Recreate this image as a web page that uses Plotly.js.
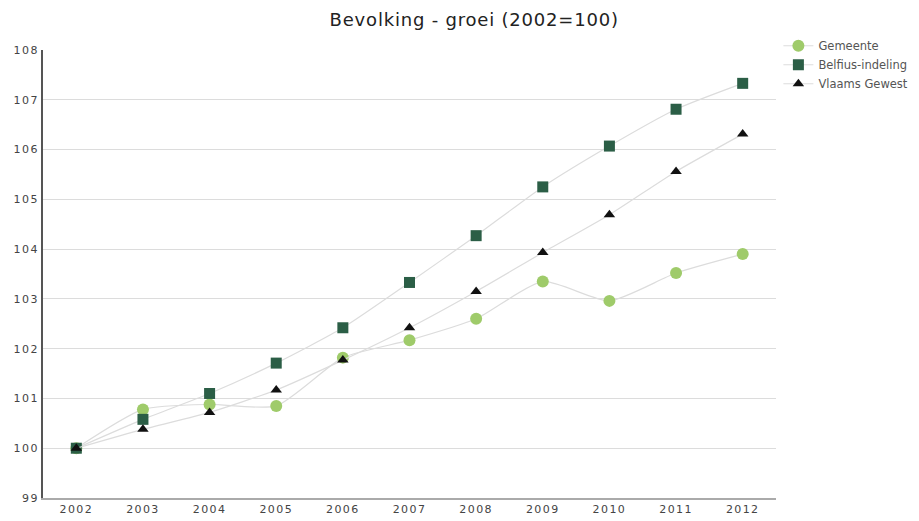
<!DOCTYPE html>
<html><head><meta charset="utf-8">
<script src="https://cdn.plot.ly/plotly-3.0.1.min.js"></script>
<style>
html,body{margin:0;padding:0;background:#fff;}
#chart{width:919px;height:521px;}
#chart .xtick text, #chart .ytick text{letter-spacing:1.4px;}
#chart .gtitle{letter-spacing:0.8px;}
</style>
</head><body><div id="chart"></div>
<script>
const years = [2002,2003,2004,2005,2006,2007,2008,2009,2010,2011,2012];
const gemeente = [100,100.78,100.88,100.85,101.82,102.17,102.6,103.35,102.96,103.52,103.9];
const belfius = [100,100.58,101.1,101.71,102.42,103.33,104.27,105.25,106.07,106.81,107.33];
const vlaams = [100,100.38,100.72,101.17,101.77,102.42,103.15,103.93,104.69,105.56,106.31];
const yTicks = [99,100,101,102,103,104,105,106,107,108];

const lineStyle = {color:'#dcdcdc', width:1.2, shape:'spline', smoothing:0.6};
const traces = [
  {x:years, y:gemeente, name:'Gemeente', mode:'lines+markers', line:lineStyle,
   marker:{symbol:'circle', size:12, color:'#9fcb6a'}},
  {x:years, y:belfius, name:'Belfius-indeling', mode:'lines+markers', line:lineStyle,
   marker:{symbol:'square', size:11, color:'#2b5e46'}},
  {x:years, y:vlaams, name:'Vlaams Gewest', mode:'lines+markers', line:lineStyle,
   marker:{symbol:'triangle-up', size:10, color:'#111'}}
];
const layout = {
  width:919, height:521,
  margin:{l:43, r:143, t:50, b:23},
  paper_bgcolor:'#fff', plot_bgcolor:'#fff',
  font:{family:'DejaVu Sans, sans-serif', size:10, color:'#333'},
  title:{text:'Bevolking - groei (2002=100)', x:0.516, xanchor:'center', y:0.962, yanchor:'middle',
         font:{family:'DejaVu Sans, sans-serif', size:18, color:'#222'}},
  xaxis:{range:[2001.5,2012.5], tickvals:years, ticktext:years.map(String), showgrid:false,
         showline:true, linecolor:'#aaa', linewidth:2, ticks:'', zeroline:false,
         tickfont:{size:11, color:'#444'}, fixedrange:true},
  yaxis:{range:[99,108], tickvals:yTicks, ticktext:yTicks.map(String), showgrid:true,
         gridcolor:'#dcdcdc', gridwidth:1, showline:true, linecolor:'#555', linewidth:2,
         ticks:'', zeroline:false, tickfont:{size:11, color:'#444'}, fixedrange:true},
  legend:{xref:'container', yref:'container', x:0.847, y:0.94, xanchor:'left', yanchor:'top',
          font:{size:11.5, color:'#555'}, bgcolor:'rgba(0,0,0,0)', itemwidth:30, tracegroupgap:0},
  showlegend:true
};
Plotly.newPlot('chart', traces, layout, {displayModeBar:false, staticPlot:true});
</script></body></html>
